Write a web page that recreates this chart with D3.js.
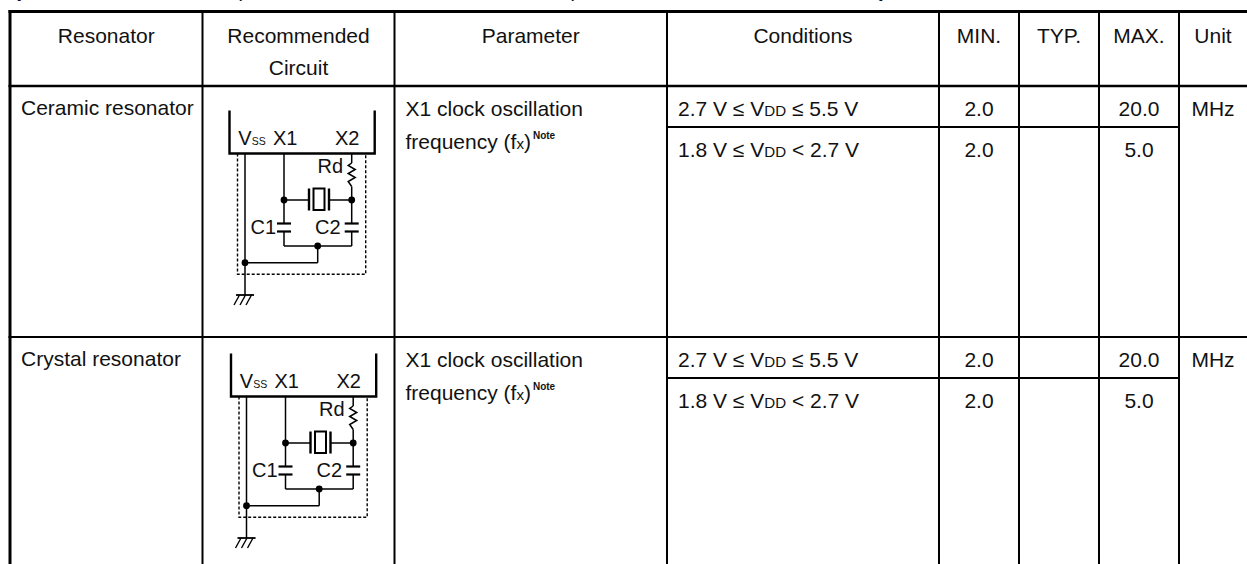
<!DOCTYPE html>
<html lang="en">
<head>
    <meta charset="UTF-8">
    <script src="https://d3js.org/d3.v7.min.js"></script>
    <style>
        body { margin: 0; background: #fff; }
        svg { display: block; }
        text { font-family: "Liberation Sans", Arial, sans-serif; fill: #111; }
    </style>
</head>
<body>
    <svg id="table" width="1247" height="564"></svg>

    <script>
        // table content, _x_ = small text, ^x^ = tiny bold superscript
        const columns = ["Resonator", "Recommended", "Parameter", "Conditions", "MIN.", "TYP.", "MAX.", "Unit"];
        const headerSecondLine = ["", "Circuit", "", "", "", "", "", ""];
        const resonators = ["Ceramic resonator", "Crystal resonator"];
        const parameterLines = ["X1 clock oscillation", "frequency (f_x_)^Note^"];
        const conditions = ["2.7 V ≤ V_DD_ ≤ 5.5 V", "1.8 V ≤ V_DD_ < 2.7 V"];
        const minValues = ["2.0", "2.0"];
        const typValues = ["", ""];
        const maxValues = ["20.0", "5.0"];
        const unitLabel = "MHz";
        const clippedTitleMarks = [["(", 14], [",", 238], [",", 570], [")", 879]];

        const width = 1247, height = 564;
        const fontSize = 21;
        const svg = d3.select("#table");

        // left edge of every column, the last one runs off the picture
        const colLeft = d3.scaleOrdinal(columns, [10, 202.5, 394.5, 667, 939, 1019, 1099, 1179]);
        const colRight = d3.scaleOrdinal(columns, [202.5, 394.5, 667, 939, 1019, 1099, 1179, 1247]);
        const rowTop = d3.scaleOrdinal(resonators, [86, 337]);
        const circuitOrigin = d3.scaleOrdinal(resonators, [[229.5, 153.5], [231, 396.5]]);
        const colMid = c => (colLeft(c) + colRight(c)) / 2;

        function richText(g, str, x, y, anchor, size, smallSize) {
            const fs = size || fontSize;
            const t = g.append("text").attr("x", x).attr("y", y)
                .attr("text-anchor", anchor || "start").attr("font-size", fs);
            str.split(/(_[^_]+_|\^[^^]+\^)/).filter(s => s).forEach(part => {
                if (part[0] === "_") {
                    t.append("tspan").attr("font-size", smallSize || fs * 0.72).text(part.slice(1, -1));
                } else if (part[0] === "^") {
                    t.append("tspan").attr("font-size", 10).attr("font-weight", "bold")
                        .attr("dx", 2).attr("dy", -10).text(part.slice(1, -1));
                } else {
                    t.append("tspan").text(part);
                }
            });
            return t;
        }

        function line(g, x1, y1, x2, y2, w) {
            return g.append("line").attr("x1", x1).attr("y1", y1).attr("x2", x2).attr("y2", y2)
                .attr("stroke", "#000").attr("stroke-width", w || 2);
        }

        // bits of the title that was cut off above the table
        svg.selectAll(".title-mark").data(clippedTitleMarks).enter().append("text")
            .attr("class", "title-mark")
            .attr("x", d => d[1])
            .attr("y", d => d[0] === "," ? -2 : -3.5)
            .attr("font-size", fontSize)
            .attr("font-weight", "bold")
            .text(d => d[0]);

        // grid
        const grid = svg.append("g");
        line(grid, 8.5, 11.5, width, 11.5, 3);
        line(grid, 10, 10, 10, height, 3);
        line(grid, 8.5, 86, width, 86, 2.5);
        columns.slice(1).forEach(c => line(grid, colLeft(c), 11, colLeft(c), height, 2));
        resonators.forEach(r => {
            if (rowTop(r) !== 86) line(grid, 8.5, rowTop(r), width, rowTop(r), 2);
            line(grid, colLeft("Conditions"), rowTop(r) + 41, colLeft("Unit"), rowTop(r) + 41, 2);
        });

        // header
        const header = svg.append("g");
        columns.forEach((c, i) => {
            richText(header, c, colMid(c), 42.5, "middle");
            if (headerSecondLine[i]) richText(header, headerSecondLine[i], colMid(c), 75, "middle");
        });

        // rows
        const body = svg.append("g");
        resonators.forEach(r => {
            const top = rowTop(r);
            richText(body, r, 21, top + 29);
            parameterLines.forEach((s, i) => richText(body, s, colLeft("Parameter") + 11, top + 29.5 + i * 33));
            conditions.forEach((s, i) => {
                const y = top + 29.5 + i * 41.5;
                richText(body, s, colLeft("Conditions") + 11, y);
                richText(body, minValues[i], colMid("MIN."), y, "middle");
                richText(body, typValues[i], colMid("TYP."), y, "middle");
                richText(body, maxValues[i], colMid("MAX."), y, "middle");
            });
            richText(body, unitLabel, colMid("Unit"), top + 29.5, "middle");
            drawCircuit(circuitOrigin(r));
        });

        // schematic, coordinates are relative to the lower left corner of the chip box
        function drawCircuit(origin) {
            const g = svg.append("g").attr("transform", `translate(${origin[0]},${origin[1]})`);
            const vss = 15.5, x1 = 54.5, x2 = 122.2, mid = 88.2;
            const nodeY = 46.5, loopY = 92.5, groundY = 141.5, tieY = 109.2;
            const wire = 1.5;

            // dotted module outline
            g.append("path")
                .attr("d", "M8,0V120.8H136.2V0")
                .attr("fill", "none").attr("stroke", "#000").attr("stroke-width", 1.4)
                .attr("stroke-dasharray", "3,2");

            // chip box
            g.append("path").attr("d", "M0,-43V0H145.2V-43")
                .attr("fill", "none").attr("stroke", "#000").attr("stroke-width", 2.4);

            // wires
            line(g, vss, 0, vss, groundY, wire);
            line(g, x1, 0, x1, 70, wire);
            line(g, x1, 78, x1, loopY, wire);
            line(g, x2, 0, x2, 9.5, wire);
            line(g, x2, 33, x2, 70, wire);
            line(g, x2, 78, x2, loopY, wire);
            line(g, x1, loopY, x2, loopY, wire);
            line(g, mid, loopY, mid, tieY, wire);
            line(g, vss, tieY, mid, tieY, wire);
            line(g, x1, nodeY, 79.5, nodeY, wire);
            line(g, 99.5, nodeY, x2, nodeY, wire);

            // resistor
            g.append("path")
                .attr("d", `M${x2},9.5l-3.5,2.5l7,4l-7,4l7,4l-7,4l3.5,5`)
                .attr("fill", "none").attr("stroke", "#000").attr("stroke-width", wire);

            // crystal
            line(g, 79.5, 35, 79.5, 57, 2.4);
            line(g, 99.5, 35, 99.5, 57, 2.4);
            g.append("rect").attr("x", 84).attr("y", 35).attr("width", 11).attr("height", 21.5)
                .attr("fill", "none").attr("stroke", "#000").attr("stroke-width", 2);

            // capacitors
            [x1, x2].forEach(x => {
                line(g, x - 7, 70, x + 7, 70, 2.2);
                line(g, x - 7, 78, x + 7, 78, 2.2);
            });

            // junctions
            [[x1, nodeY], [x2, nodeY], [mid, loopY], [vss, tieY]].forEach(p => {
                g.append("circle").attr("cx", p[0]).attr("cy", p[1]).attr("r", 3.4).attr("fill", "#000");
            });

            // ground
            line(g, vss - 9, groundY, vss + 9, groundY, 1.8);
            [-5.5, 0.5, 6.5].forEach(dx => {
                line(g, vss + dx, groundY, vss + dx - 5.5, groundY + 10, 1.4);
            });

            // labels
            const label = (s, x, y) => richText(g, s, x, y, "start", 20, 10.5);
            label("V_SS_", 8.8, -8.5);
            label("X1", 43.5, -8.5);
            label("X2", 105.5, -8.5);
            label("Rd", 88, 19.5);
            label("C1", 21, 80.5);
            label("C2", 85.5, 80.5);
        }
    </script>
</body>
</html>
